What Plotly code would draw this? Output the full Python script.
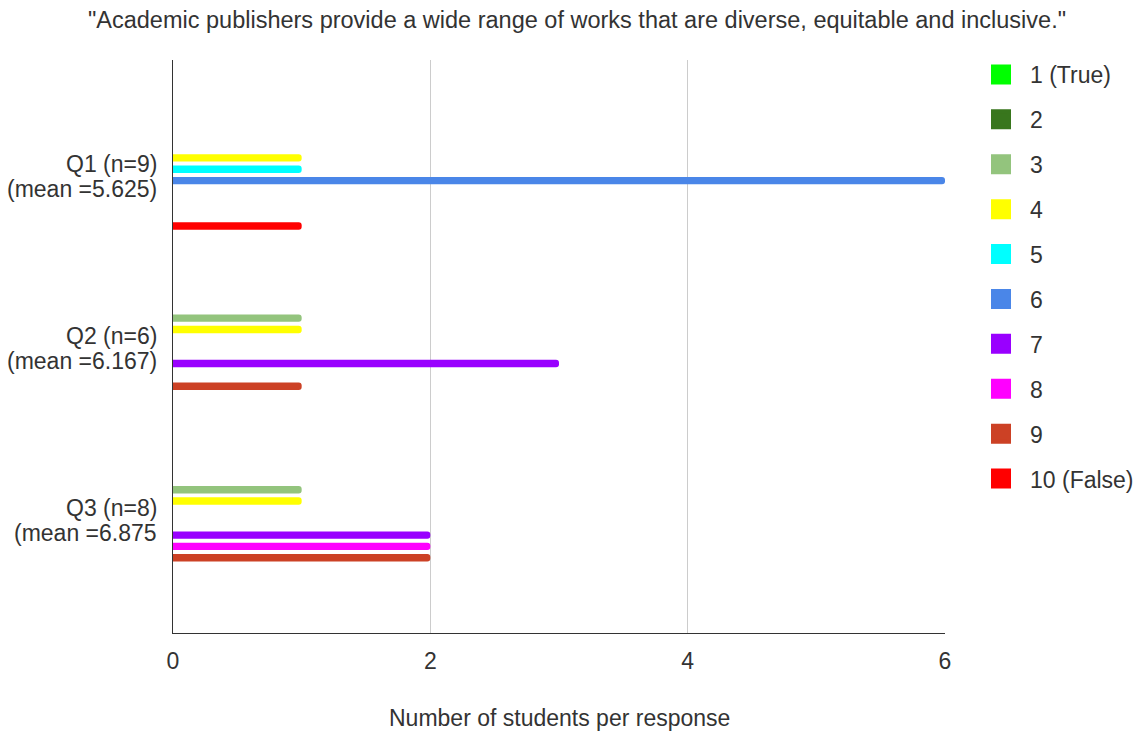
import plotly.graph_objects as go

categories = ["Q1", "Q2", "Q3"]
category_line1 = ["Q1 (n=9)", "Q2 (n=6)", "Q3 (n=8)"]
category_line2 = ["(mean =5.625)", "(mean =6.167)", "(mean =6.875"]
series_names = ["1 (True)", "2", "3", "4", "5", "6", "7", "8", "9", "10 (False)"]
series_colors = ["#00ff00", "#38761d", "#93c47d", "#ffff00", "#00ffff",
                 "#4a86e8", "#9900ff", "#ff00ff", "#cc4125", "#ff0000"]
# counts per response value (rows: series 1..10, cols: Q1, Q2, Q3)
counts = [
    [0, 0, 0],
    [0, 0, 0],
    [0, 1, 1],
    [1, 1, 1],
    [1, 0, 0],
    [6, 0, 0],
    [0, 3, 2],
    [0, 0, 2],
    [0, 1, 2],
    [1, 0, 0],
]
x_ticks = [0, 2, 4, 6]
title_text = '"Academic publishers provide a wide range of works that are diverse, equitable and inclusive."'
x_title = "Number of students per response"

FONT = "Liberation Sans, Arial, sans-serif"
FS = 23
TXT = "#333333"
fig = go.Figure()
for i, name in enumerate(series_names):
    fig.add_trace(go.Bar(
        y=categories, x=counts[i], orientation="h", name=name,
        marker=dict(color=series_colors[i], line=dict(width=0)),
        legendgroup=name, showlegend=False, hoverinfo="x+name",
    ))
for i, name in enumerate(series_names):
    fig.add_trace(go.Scatter(
        x=[None], y=[None], mode="markers", name=name, legendgroup=name,
        marker=dict(symbol="square", size=16, color=series_colors[i],
                    line=dict(width=4, color=series_colors[i])),
        showlegend=True,
    ))

annotations = []
for cat, l1, l2 in zip(categories, category_line1, category_line2):
    for txt, shift in ((l1, 10.5), (l2, -14.5)):
        annotations.append(dict(
            x=0, xref="paper", y=cat, yref="y", text=txt, showarrow=False,
            xanchor="right", yanchor="middle", xshift=-14, yshift=shift,
            font=dict(family=FONT, size=FS, color=TXT)))
annotations.append(dict(
    x=0.5, xref="paper", y=-(718 - 633) / 573, yref="paper", text=x_title,
    showarrow=False, xanchor="center", yanchor="middle",
    font=dict(family=FONT, size=FS, color=TXT)))

fig.update_layout(
    width=1139, height=732,
    margin=dict(l=173, r=194, t=60, b=99, autoexpand=False),
    paper_bgcolor="white", plot_bgcolor="white",
    font=dict(family=FONT, size=FS, color=TXT),
    title=dict(text=title_text, x=577 / 1139, xref="container", xanchor="center",
               y=1 - 20 / 732, yref="container", yanchor="middle",
               font=dict(family=FONT, size=23.5, color=TXT)),
    barmode="group", bargap=0.339, bargroupgap=0.35, barcornerradius=3,
    xaxis=dict(range=[0, 6], tickvals=x_ticks, showgrid=True, gridcolor="#cccccc",
               gridwidth=1, zeroline=False, showline=True, linecolor="#333333",
               linewidth=1, ticks="", ticklabelstandoff=7,
               tickfont=dict(family=FONT, size=FS, color=TXT)),
    yaxis=dict(range=[2.67, -0.67], showticklabels=False, showgrid=False,
               zeroline=False, showline=True, linecolor="#333333", linewidth=1,
               ticks=""),
    legend=dict(x=(972 - 173) / 772, xanchor="left", y=1 - (53 - 60) / 573,
                yanchor="top", tracegroupgap=12, itemwidth=48, maxheight=650,
                font=dict(family=FONT, size=FS, color=TXT),
                bgcolor="rgba(0,0,0,0)"),
    annotations=annotations,
)
fig.write_html("out.html")
